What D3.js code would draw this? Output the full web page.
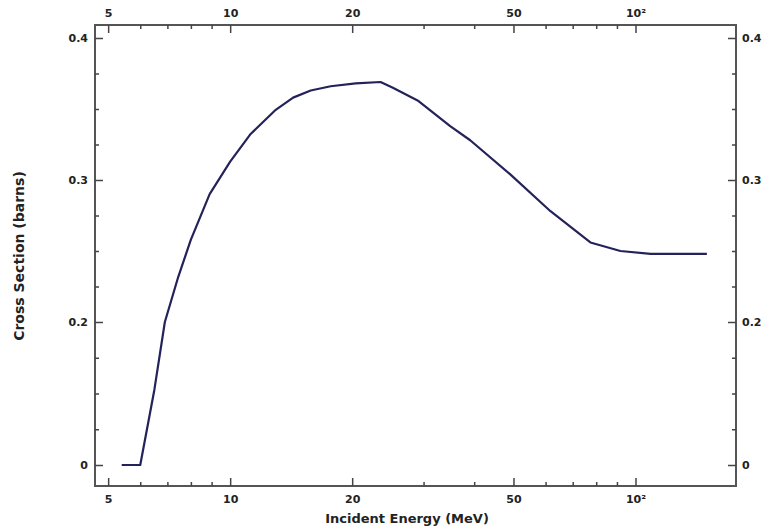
<!DOCTYPE html>
<html>
<head>
<meta charset="utf-8">
<script src="https://cdn.jsdelivr.net/npm/d3@7"></script>
<style>
  html, body { margin: 0; padding: 0; background: #fff; }
  svg { display: block; }
</style>
</head>
<body>
<svg id="chart" width="767" height="528"></svg>
<script>
// ---- data ----
const energies = [5.4, 6.0, 6.5, 6.9, 7.45, 8.0, 8.9, 10, 11.2, 12.9, 14.3, 15.8, 17.7, 20.4, 23.5, 25.2, 29.0, 34.9, 39.1, 49.1, 61.7, 77.4, 91.8, 109, 150];
const crossSections = [0, 0, 0.105, 0.2, 0.232, 0.258, 0.29, 0.313, 0.332, 0.349, 0.358, 0.363, 0.366, 0.368, 0.369, 0.365, 0.356, 0.338, 0.328, 0.304, 0.278, 0.256, 0.25, 0.248, 0.248];

const xMajorTicks = [5, 10, 20, 50, 100];
const xMajorLabels = ["5", "10", "20", "50", "10²"];
const xMinorTicks = [6, 7, 8, 9, 30, 40, 60, 70, 80, 90];
const yMajorTicks = [0, 0.2, 0.3, 0.4];
const yMajorLabels = ["0", "0.2", "0.3", "0.4"];
const yMinorTicks = [0.05, 0.1, 0.15, 0.225, 0.25, 0.275, 0.325, 0.35, 0.375];
const xTitle = "Incident Energy (MeV)";
const yTitle = "Cross Section (barns)";

// ---- layout ----
const L = 95, R = 736, T = 25, B = 486;
const svg = d3.select("#chart");

const x = d3.scaleLog().domain([4.64, 177]).range([L, R]);
// piecewise linear axis as in the reference (0, 0.2, 0.3, 0.4 equally spaced)
const y = d3.scaleLinear().domain([-0.0294, 0, 0.2, 0.4, 0.4091]).range([B, 465, 322, 38, T]);

const fontFam = "'DejaVu Sans', Arial, sans-serif";
const tickColor = "#444";

// frame
svg.append("rect")
  .attr("x", L).attr("y", T).attr("width", R - L).attr("height", B - T)
  .attr("fill", "none").attr("stroke", "#555").attr("stroke-width", 2);

function styleAxis(g) {
  g.select(".domain").remove();
  g.selectAll(".tick line").attr("stroke", tickColor).attr("stroke-width", 1.5);
  g.selectAll(".tick text")
    .attr("fill", "#222")
    .style("font-family", fontFam)
    .style("font-size", "11px")
    .style("font-weight", "bold");
}

const xLabelOf = d => xMajorLabels[xMajorTicks.indexOf(d)];
const yLabelOf = d => yMajorLabels[yMajorTicks.indexOf(d)];

// x axes (major)
svg.append("g").attr("transform", `translate(0,${B})`)
  .call(d3.axisBottom(x).tickValues(xMajorTicks).tickFormat(xLabelOf).tickSize(-8).tickPadding(9))
  .call(styleAxis);
svg.append("g").attr("transform", `translate(0,${T})`)
  .call(d3.axisTop(x).tickValues(xMajorTicks).tickFormat(xLabelOf).tickSize(-8).tickPadding(8))
  .call(styleAxis);
// x axes (minor)
svg.append("g").attr("transform", `translate(0,${B})`)
  .call(d3.axisBottom(x).tickValues(xMinorTicks).tickFormat("").tickSize(-4))
  .call(styleAxis);
svg.append("g").attr("transform", `translate(0,${T})`)
  .call(d3.axisTop(x).tickValues(xMinorTicks).tickFormat("").tickSize(-4))
  .call(styleAxis);

// y axes (major)
svg.append("g").attr("transform", `translate(${L},0)`)
  .call(d3.axisLeft(y).tickValues(yMajorTicks).tickFormat(yLabelOf).tickSize(-8).tickPadding(7))
  .call(styleAxis);
svg.append("g").attr("transform", `translate(${R},0)`)
  .call(d3.axisRight(y).tickValues(yMajorTicks).tickFormat(yLabelOf).tickSize(-8).tickPadding(6))
  .call(styleAxis);
// y axes (minor)
svg.append("g").attr("transform", `translate(${L},0)`)
  .call(d3.axisLeft(y).tickValues(yMinorTicks).tickFormat("").tickSize(-4))
  .call(styleAxis);
svg.append("g").attr("transform", `translate(${R},0)`)
  .call(d3.axisRight(y).tickValues(yMinorTicks).tickFormat("").tickSize(-4))
  .call(styleAxis);

// curve
const pts = energies.map((e, i) => [e, crossSections[i]]);
svg.append("path")
  .datum(pts)
  .attr("fill", "none")
  .attr("stroke", "#23235a")
  .attr("stroke-width", 2.2)
  .attr("stroke-linejoin", "round")
  .attr("d", d3.line().x(d => x(d[0])).y(d => y(d[1])));

// titles
svg.append("text")
  .attr("x", 407).attr("y", 523)
  .attr("text-anchor", "middle")
  .attr("fill", "#222")
  .style("font-family", fontFam).style("font-size", "13px").style("font-weight", "bold")
  .text(xTitle);
svg.append("text")
  .attr("transform", "translate(24,256) rotate(-90)")
  .attr("text-anchor", "middle")
  .attr("fill", "#222")
  .style("font-family", fontFam).style("font-size", "14px").style("font-weight", "bold")
  .text(yTitle);
</script>
</body>
</html>
